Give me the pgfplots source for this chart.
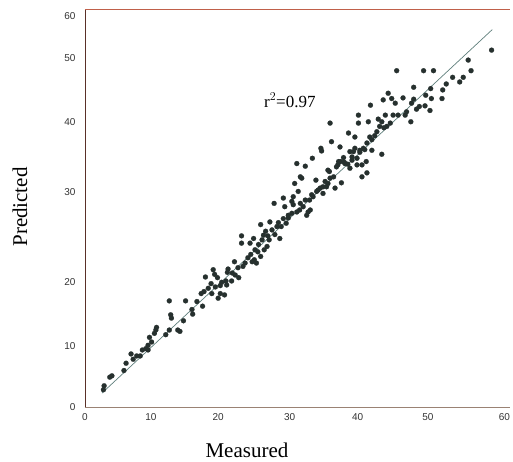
\documentclass[border=0pt]{standalone}
\usepackage{fontspec}
\setmainfont{Liberation Serif}
\setsansfont{Liberation Sans}
\usepackage{pgfplots}
\pgfplotsset{compat=1.18}
\definecolor{ptcol}{HTML}{26302E}
\definecolor{fitcol}{HTML}{5F7F7C}
\definecolor{topcol}{HTML}{C0604A}
\definecolor{leftcol}{HTML}{5A3028}
\definecolor{botcol}{HTML}{9A8274}
\definecolor{tickcol}{HTML}{333333}
\begin{document}
\begin{tikzpicture}
\begin{axis}[
  scale only axis, width=425pt, height=398pt,
  xmin=0, xmax=60, ymin=0, ymax=60,
  clip=false,
  axis x line*=bottom, axis y line*=left,
  x axis line style={-, draw=botcol, line width=0.9pt},
  y axis line style={-, draw=leftcol, line width=0.9pt},
  major tick length=0pt,
  xtick={0,9.3,18.8,28.9,38.5,48.4,59.2},
  xticklabels={0,10,20,30,40,50,60},
  ytick={0,9.2,18.8,32.4,43.0,52.6,58.9},
  yticklabels={0,10,20,30,40,50,60},
  xticklabel style={anchor=center, yshift=-10pt, font=\sffamily\fontsize{10}{11}\selectfont, text=tickcol},
  yticklabel style={anchor=east, xshift=-6pt, font=\sffamily\fontsize{10}{11}\selectfont, text=tickcol},
]
\coordinate (bl) at (rel axis cs:0,0);
\draw[topcol, line width=0.9pt] (rel axis cs:0,1) -- (rel axis cs:1,1);
\addplot[only marks, mark=*, mark size=2.5pt, mark options={fill=ptcol, draw=ptcol, line width=0.2pt}] coordinates {
(2.6,2.6) (2.7,3.2) (3.5,4.5) (3.8,4.7) (5.5,5.5) (5.8,6.6) (6.5,8.0) (6.8,7.2) (7.3,7.7) (7.8,7.7)
(8.1,8.6) (8.6,8.8) (8.9,9.3) (8.9,8.6) (9.1,10.5) (9.4,9.8) (9.8,11.1) (10.0,11.6) (10.1,12.0) (11.4,10.9)
(11.9,11.6) (11.9,16.0) (12.1,13.9) (12.2,13.4) (13.1,11.6) (13.4,11.4) (13.9,13.0)
(14.2,16.0) (15.1,14.7) (15.2,14.0) (15.8,15.9) (16.4,17.1) (16.6,15.2) (16.8,17.4) (17.0,19.6) (17.8,18.6) (17.9,17.1)
(18.1,20.7) (18.3,20.0) (18.7,19.5) (19.1,18.3) (19.3,18.8) (19.7,16.9) (19.9,19.0) (20.1,20.3) (20.2,20.8) (20.7,19.0)
(21.1,21.9) (21.2,19.9) (21.7,19.5) (22.1,24.7) (22.1,25.8) (22.3,21.2) (22.6,21.7) (23.3,24.7) (23.4,23.0) (23.6,21.9)
(23.8,25.4) (24.0,23.7) (24.2,21.7) (24.5,24.5) (18.4,18.1) (19.1,17.1) (23.9,22.2) (18.8,16.4) (20.0,18.4) (17.4,17.9)
(21.6,21.0) (23.0,22.5) (20.8,20.2)
(24.8,27.5) (24.8,22.7) (25.0,25.2) (25.2,25.9) (25.3,23.7) (25.5,26.5) (25.7,24.2) (26.0,25.2) (26.1,27.9) (26.4,26.7)
(26.8,26.0) (26.7,30.7) (27.1,27.2) (27.3,27.8) (27.5,25.4) (27.7,27.2) (28.0,31.5) (28.0,28.4) (28.4,27.7) (29.2,31.0)
(29.4,31.7) (29.6,33.7) (29.9,36.7) (30.1,32.5) (30.4,34.7) (30.3,29.7) (30.8,30.2) (31.1,36.3) (31.3,28.9) (31.7,31.2)
(31.8,29.7) (32.2,31.7) (32.6,34.2) (32.9,32.7) (33.6,33.2) (34.3,33.7) (34.5,35.5) (35.1,34.7) (35.5,36.2) (35.8,37.0)
(28.2,30.2) (28.7,28.9) (29.4,30.5) (29.9,29.4) (30.4,30.7) (30.6,34.5) (31.1,31.2) (31.5,29.4) (32.1,37.5) (32.7,32.5)
(33.3,39.0) (33.4,38.6) (33.6,32.2) (33.9,34.0) (34.1,33.2) (34.3,35.7) (34.6,42.8) (34.8,40.0) (35.3,33.0) (35.7,36.5)
(25.8,25.8) (28.7,28.5) (29.2,29.2) (32.0,32.0) (33.2,33.0) (34.6,34.5) (24.4,23.4)
(36.2,33.8) (36.7,36.7) (37.4,36.0) (38.4,36.5) (39.1,34.7) (39.7,37.0) (39.8,35.3) (36.0,39.2) (36.1,37.0) (36.5,37.6)
(37.1,36.6) (37.2,41.3) (37.4,38.5) (37.7,37.7) (38.1,40.7) (38.1,39.0) (38.4,37.5) (38.6,42.8) (38.6,44.0) (39.1,36.5)
(39.3,39.0) (37.9,38.5) (38.8,38.7) (39.5,38.8) (39.8,39.8) (40.0,43.0) (40.2,40.7) (40.3,45.5) (40.5,38.7) (41.2,41.5)
(41.4,43.4) (41.6,42.3) (41.9,38.1) (41.9,43.0) (42.1,46.3) (42.4,44.0) (42.6,42.3) (42.8,47.3) (43.1,42.8) (43.3,46.5)
(43.5,44.0) (43.8,45.8) (44.0,50.7) (44.2,44.0) (44.9,46.6) (45.2,44.0) (45.4,44.5) (46.0,43.0) (46.1,45.8) (46.4,48.2)
(46.4,46.4) (46.8,44.9) (47.2,45.3) (40.5,40.3) (40.9,40.9) (36.6,36.9) (37.7,37.2) (38.8,38.4) (42.2,42.1)
(47.8,50.7) (48.0,45.4) (48.1,47.0) (48.7,44.7) (48.8,48.0) (48.9,46.5) (49.2,50.7) (50.4,46.5) (50.5,47.8) (51.0,48.7)
(51.9,49.7) (52.9,49.0) (53.4,49.7) (54.1,52.3) (54.5,50.7) (57.4,53.8)
};
\addplot[fitcol, line width=0.7pt] coordinates {(2.4,2.1) (57.5,56.9)};
\node[font=\fontsize{21}{24}\selectfont, inner sep=0pt, anchor=base] at (rel axis cs:0.381,-0.1269) {Measured};
\node[font=\fontsize{21}{24}\selectfont, inner sep=0pt, rotate=90] at (rel axis cs:-0.153,0.5025) {Predicted};
\node[font=\fontsize{17}{20}\selectfont, inner sep=0pt] at (rel axis cs:0.482,0.771) {r$^{2}$=0.97};
\end{axis}
\pgfresetboundingbox
\path ([shift={(-85pt,-54pt)}]bl) rectangle ++(513pt,461pt);
\end{tikzpicture}
\end{document}
